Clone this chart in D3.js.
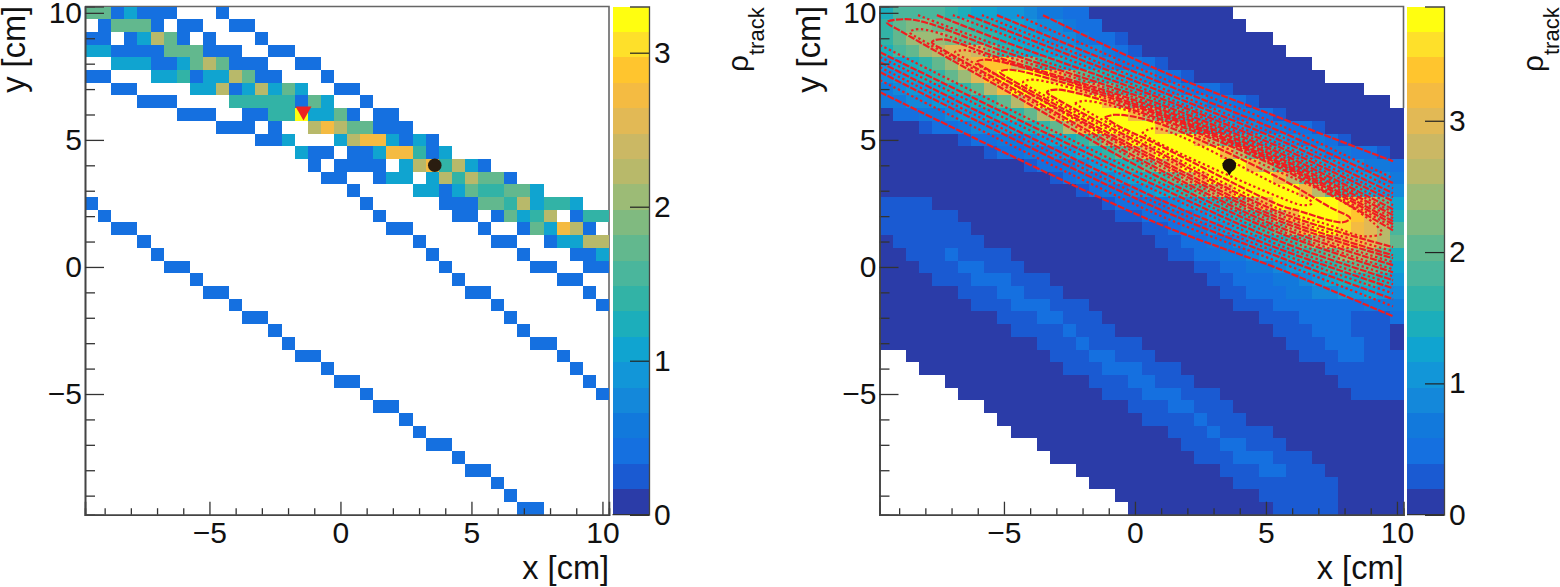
<!DOCTYPE html>
<html>
<head>
<meta charset="utf-8">
<script src="https://cdn.jsdelivr.net/npm/d3@7"></script>
<style>
  html, body { margin: 0; padding: 0; background: #fff; }
  text { font-family: "Liberation Sans", Arial, sans-serif; fill: #111; }
</style>
</head>
<body>
<svg id="chart" width="1560" height="587"></svg>
<script>
// histogram range, 40 x 40 bins of 0.5 cm
const axisRange = [-9.75, 10.25];
const binWidth = 0.5;
const majorTicks = [-5, 0, 5, 10];
const minorTicks = [-9, -8, -7, -6, -4, -3, -2, -1, 1, 2, 3, 4, 6, 7, 8, 9];
const barTicks = [0, 1, 2, 3];

const leftMax = 3.3;
const rightMax = 3.87;

// colour levels of the palette bar, bottom to top
const palette = ["#2b3ca8", "#1a5ad2", "#1570e0", "#1279dc", "#1488da", "#1296d8", "#10a4d0", "#1caebb",
                 "#32b3a6", "#4ab69c", "#62b88e", "#80ba80", "#9cbb76", "#b8b96a", "#cbb864", "#e2b955",
                 "#f4bb42", "#ffc52e", "#fee02a", "#fffe10"];

// left panel: bin contents, one string per row from the top, '.' is an empty bin
const leftBinValues = { A: 0.41, B: 1.0, C: 1.32, D: 1.65, E: 2.25, F: 2.75, G: 3.25 };
const leftRows = [
  "DDABAAA...A",
  ".ADDDA.AA..AA",
  "AA.ABEDA.A...A",
  "BBAAAADDDAAA..AA",
  "..BBBAABDEDAAA..AA",
  "AA...BBCABBEDAA...A",
  "..AA....BBEABEBDB..AA",
  "....AAA....CCCCCADB..A",
  ".{7}AAA..AACCGBBDA.AA",
  ".{10}AAA.A..EFEDDAAA",
  ".{13}AAB...BEFFBABA",
  ".{16}BAA.AABFFCAB",
  ".{17}A.AAAA.BEFCEBA",
  ".{18}AA..ABB.BECEDDA",
  ".{20}A....BBABDCCDDB",
  "A.{20}A.{5}AAADDCEBCCB",
  ".A.{20}A.{5}AA.ADBCE.ACC",
  "..AA.{19}AA.{5}A..ADBFEA",
  "....A.{20}A.{5}AA..ABBEE",
  ".{5}A.{20}A.{6}A...AAB",
  ".{6}AA.{19}A.{6}AA..AA",
  ".{8}A.{19}A.{7}AA",
  ".{9}AA.{18}AA.{7}A",
  ".{11}A.{19}A.{7}A",
  ".{12}AA.{18}A",
  ".{14}A.{18}A",
  ".{15}A.{18}AA",
  ".{16}AA.{18}A",
  ".{18}A.{18}A",
  ".{19}AA.{17}A",
  ".{21}A.{17}A",
  ".{22}AA",
  ".{24}A",
  ".{25}A",
  ".{26}AA",
  ".{28}A",
  ".{29}AA",
  ".{31}A",
  ".{32}A",
  ".{33}AA"
];

// right panel: bin contents in palette steps (base 20), '.' is an empty bin
const rightRows = [
  "7999987665543322" + "0{11}",
  "8abbaa98766544322" + "0{11}",
  "8acccba987665443221" + "0{11}",
  "79acdffeb87665544321" + "0{11}",
  "5678acfghheb8766543321" + "0{11}",
  "45678acfhjjjjgda87654321" + "0{10}",
  "3455678adg" + "j{5}" + "gda8" + "76543221" + "0{10}",
  "334455678adg" + "j{5}" + "gda8" + "76543321" + "0{10}",
  "02233455678adg" + "j{5}" + "gda8" + "76543321" + "0{9}",
  "000" + "1223445678adg" + "j{5}" + "gda8" + "765433221" + "0{6}",
  "0{6}" + "1223345678adg" + "j{5}" + "gda8" + "76543321" + "0{4}",
  "0{8}" + "1223345678adg" + "j{5}" + "gda8" + "765433221" + "0",
  "0{11}" + "122345678adg" + "j{5}" + "gda8" + "76544332",
  "0{13}" + "123345678adg" + "j{5}" + "gda8" + "765543",
  "0{15}" + "123345678adg" + "j{5}" + "gda8" + "7654",
  "1111" + "0{13}" + "1223345678adg" + "j{5}" + "igda6",
  "111111" + "0{12}" + "11223345678adg" + "jjj" + "ihfc7",
  "1{7}" + "0{13}" + "1123345678adg" + "jj" + "igfd9",
  "0" + "1{7}" + "0{13}" + "11223345678" + "adfggfda",
  "00" + "11121111" + "0{12}" + "112233456789" + "accca7",
  "000" + "11122111" + "0{13}" + "1122334567" + "89aa96",
  "0000" + "111222111" + "0{12}" + "112223345" + "677875",
  "0{6}" + "11122111" + "0{12}" + "11222334" + "455654",
  "0{7}" + "111222111" + "0{11}" + "1112222222333",
  "0{9}" + "11122111" + "0{12}" + "11122221112",
  "0{10}" + "11112111" + "0{12}" + "1112221110",
  "0{12}" + "11121111" + "0{11}" + "111222110",
  "..0{11}" + "11122111" + "0{11}" + "11122111",
  "...0{11}" + "111222111" + "0{11}" + "111111",
  ".{5}0{11}" + "11122111" + "0{11}" + "11111",
  ".{6}0{11}" + "111222111" + "0{10}" + "1111",
  ".{8}0{11}" + "11122111" + "0{13}",
  ".{9}0{11}" + "11112111" + "0{12}",
  ".{10}0{12}" + "11121111" + "0{10}",
  ".{12}0{11}" + "11122111" + "0{9}",
  ".{13}0{11}" + "111222111" + "0{7}",
  ".{15}0{11}" + "11122111" + "0{6}",
  ".{16}0{11}" + "1{8}" + "0{5}",
  ".{18}0{11}" + "1{6}" + "0{5}",
  ".{19}0{11}" + "1{5}" + "0{5}"
];

// contour lines of the right panel, points in cm
const contourLines = [
  [[-3.51, 9.91], [0.76, 7.82], [5.53, 5.87], [9.85, 4.16]],
  [[-9.73, 6.88], [0.76, 1.76], [5.53, -0.09], [9.85, -1.94]],
  [[-4.5, 9.91], [0.76, 7.55], [5.53, 5.58], [9.85, 3.49]],
  [[-9.73, 7.35], [0.76, 2.11], [5.53, 0.18], [9.85, -1.55]],
  [[-5.27, 9.91], [0.76, 7.35], [5.53, 5.34], [9.85, 3.3]],
  [[-9.73, 7.67], [0.76, 2.35], [5.53, 0.38], [9.85, -1.27]],
  [[-5.84, 9.91], [0.76, 7.15], [5.53, 5.15], [9.85, 3.1]],
  [[-9.73, 7.86], [0.76, 2.55], [5.53, 0.54], [9.85, -1.04]],
  [[-6.37, 9.91], [0.76, 7.0], [5.53, 4.99], [9.85, 2.9]],
  [[-9.73, 8.06], [0.76, 2.74], [5.53, 0.7], [9.85, -0.84]],
  [[-6.95, 9.91], [0.76, 6.84], [5.53, 4.83], [9.85, 2.74]],
  [[-9.73, 8.26], [0.76, 3.02], [5.53, 0.85], [9.85, -0.68]],
  [[-7.56, 9.91], [-5.15, 8.93], [0.76, 6.72], [5.53, 4.71], [9.85, 2.59]],
  [[-9.73, 8.45], [0.76, 3.22], [5.53, 1.01], [9.85, -0.52]],
  [[-8.28, 9.91], [-5.15, 8.69], [0.76, 6.6], [5.53, 4.59], [9.85, 2.43]],
  [[-9.73, 8.73], [0.76, 3.41], [5.53, 1.17], [9.85, -0.37]],
  [[9.85, 2.27], [5.53, 4.48], [0.76, 6.48], [-5.15, 8.53], [-8.02, 9.63], [-8.78, 9.75], [-9.47, 9.63], [-9.0, 9.32], [-5.15, 7.07], [0.76, 3.61], [5.53, 1.33], [9.85, -0.21]],
  [[9.85, 2.15], [5.53, 4.38], [0.76, 6.38], [-5.15, 8.37], [-8.21, 9.36], [-8.59, 9.24], [-8.13, 8.93], [-5.15, 7.21], [0.76, 3.81], [5.53, 1.44], [9.85, -0.09]],
  [[9.85, 2.04], [5.53, 4.28], [0.76, 6.29], [-5.15, 8.22], [-7.37, 8.96], [-7.75, 8.85], [-7.29, 8.53], [-5.15, 7.31], [0.76, 3.93], [5.53, 1.56], [9.85, 0.07]],
  [[9.85, 1.92], [5.53, 4.2], [0.76, 6.21], [-5.15, 8.14], [-6.49, 8.53], [-6.87, 8.45], [-6.41, 8.17], [-5.15, 7.47], [0.76, 4.08], [5.53, 1.68], [9.85, 0.19]],
  [[9.85, 1.8], [5.53, 4.12], [0.76, 6.13], [-5.65, 8.16], [-6.03, 8.06], [-5.57, 7.74], [0.76, 4.2], [5.53, 1.8], [9.85, 0.34]],
  [[9.85, 1.68], [5.53, 4.04], [0.76, 6.05], [-4.77, 7.76], [-5.15, 7.67], [-4.69, 7.35], [0.76, 4.32], [5.53, 1.92], [9.85, 0.46]],
  [[9.85, 1.56], [5.53, 3.96], [0.76, 5.97], [-3.89, 7.37], [-4.27, 7.27], [-3.82, 6.96], [0.76, 4.48], [5.53, 2.04], [9.85, 0.62]],
  [[9.85, 1.44], [5.53, 3.89], [0.76, 5.89], [-2.98, 6.98], [-3.36, 6.88], [-2.9, 6.56], [0.76, 4.59], [5.53, 2.15], [9.85, 0.78]],
  [[-2.29, 6.44], [-1.91, 6.54], [0.76, 5.81], [5.53, 3.73], [7.82, 2.63], [9.16, 1.68], [9.43, 1.33], [8.7, 1.21], [7.44, 1.64], [5.53, 2.27], [0.76, 4.71], [-1.83, 6.13], [-2.29, 6.44]],
  [[-1.15, 5.89], [-0.76, 5.99], [0.76, 5.7], [5.53, 3.49], [7.44, 2.35], [8.21, 1.92], [7.94, 1.76], [6.18, 2.23], [5.53, 2.43], [0.76, 4.87], [-0.69, 5.58], [-1.15, 5.89]],
  [[0.27, 5.26], [0.76, 5.46], [5.53, 3.18], [6.68, 2.63], [6.76, 2.5], [6.41, 2.43], [5.53, 2.74], [0.76, 4.95], [0.27, 5.26]]
];
// which of the lines above are drawn dotted
const dottedLines = [2, 3, 6, 7, 10, 11, 14, 15, 17, 19, 22, 24, 26];

const vertexPoint = [3.6, 4.0];
const seedPoint = [-1.41, 6.13];

// "1{3}" -> "111", short rows are filled with empty bins
function expandRow(row) {
  return row.replace(/(.)\{(\d+)\}/g, (m, c, n) => c.repeat(+n)).padEnd(40, ".");
}
const leftValue = ch => leftBinValues[ch];
const rightValue = ch => (parseInt(ch, 20) + 0.5) * rightMax / 20;

const svg = d3.select("#chart");
const plotTop = 6.5, plotBottom = 514.7;

function drawPanel(g, left, rows, toValue, zMax, frameEnd) {
  const right = left + 524;
  const x = d3.scaleLinear().domain(axisRange).range([left, right]);
  const y = d3.scaleLinear().domain(axisRange).range([plotBottom, plotTop]);
  const color = d3.scaleQuantize().domain([0, zMax]).range(palette);

  // 1] frame under the bins, top and right side only
  g.append("path")
    .attr("d", `M${left},${plotTop}H${right}V${frameEnd}`)
    .attr("fill", "none").attr("stroke", "#666").attr("stroke-width", 1.6);

  // 2] bins
  const cells = [];
  rows.forEach((row, r) => {
    expandRow(row).split("").slice(0, 40).forEach((ch, c) => {
      if (ch !== ".") cells.push({ c, r, value: toValue(ch) });
    });
  });
  g.append("g").attr("shape-rendering", "crispEdges")
    .selectAll("rect").data(cells).join("rect")
    .attr("x", d => x(axisRange[0] + d.c * binWidth))
    .attr("y", d => y(axisRange[1] - d.r * binWidth))
    .attr("width", x(binWidth) - x(0))
    .attr("height", y(0) - y(binWidth))
    .attr("fill", d => color(d.value));

  return { x, y, right };
}

function drawAxes(g, left, x, y) {
  // minor ticks first, then the labelled ones
  const axes = g.append("g").attr("class", "axes");
  axes.append("g").attr("transform", `translate(0,${plotBottom})`)
    .call(d3.axisBottom(x).tickValues(minorTicks).tickSize(-6.5).tickFormat(""));
  axes.append("g").attr("transform", `translate(0,${plotBottom})`)
    .call(d3.axisBottom(x).tickValues(majorTicks).tickSize(-13).tickPadding(7));
  axes.append("g").attr("transform", `translate(${left},0)`)
    .call(d3.axisLeft(y).tickValues(minorTicks).tickSize(-10).tickFormat(""));
  axes.append("g").attr("transform", `translate(${left},0)`)
    .call(d3.axisLeft(y).tickValues(majorTicks).tickSize(-19).tickPadding(3));
  axes.selectAll("path.domain").attr("stroke", "#444").attr("stroke-width", 1.6);
  axes.selectAll("line").attr("stroke", "#333").attr("stroke-width", 1.3);
  axes.selectAll("text").style("font-size", "30px").attr("fill", "#111");
}

function drawColorBar(g, barLeft, barRight, zMax) {
  const z = d3.scaleLinear().domain([0, zMax]).range([plotBottom, plotTop]);
  const steps = d3.range(palette.length);
  g.append("g").attr("shape-rendering", "crispEdges")
    .selectAll("rect").data(steps).join("rect")
    .attr("x", barLeft)
    .attr("y", d => z((d + 1) * zMax / 20))
    .attr("width", barRight - barLeft)
    .attr("height", z(0) - z(zMax / 20))
    .attr("fill", d => palette[d]);

  const bar = g.append("g").attr("transform", `translate(${barRight},0)`)
    .call(d3.axisRight(z).tickValues(barTicks).tickSize(-19).tickPadding(5).tickFormat(d3.format("d")));
  bar.selectAll("path.domain").attr("stroke", "#444").attr("stroke-width", 1.3);
  bar.selectAll("line").attr("stroke", "#222").attr("stroke-width", 1.2);
  bar.selectAll("text").style("font-size", "30px").attr("fill", "#111");
  g.append("line")
    .attr("x1", barLeft).attr("x2", barRight)
    .attr("y1", plotBottom).attr("y2", plotBottom)
    .attr("stroke", "#333").attr("stroke-width", 1.3);
}

function drawTitles(g, right, offset) {
  g.append("text").attr("x", right).attr("y", 579)
    .attr("text-anchor", "end").style("font-size", "32.5px").text("x [cm]");
  g.append("text").attr("transform", `translate(${25 + offset},6) rotate(-90)`)
    .attr("text-anchor", "end").style("font-size", "32.5px").text("y [cm]");
  g.append("text").attr("transform", `translate(${748 + offset},72) rotate(-90)`)
    .style("font-size", "30px").text("ρ");
  g.append("text").attr("transform", `translate(${764 + offset},55) rotate(-90)`)
    .style("font-size", "22px").text("track");
}

// left panel
const gLeft = svg.append("g");
const pLeft = drawPanel(gLeft, 85, leftRows, leftValue, leftMax, plotBottom);
drawAxes(gLeft, 85, pLeft.x, pLeft.y);
drawColorBar(gLeft, 612.5, 649, leftMax);
drawTitles(gLeft, pLeft.right, 0);

gLeft.append("path")
  .attr("d", d3.symbol(d3.symbolTriangle, 110)())
  .attr("transform", `translate(${pLeft.x(seedPoint[0])},${pLeft.y(seedPoint[1])}) rotate(180)`)
  .attr("fill", "#ee2222");
gLeft.append("circle")
  .attr("cx", pLeft.x(vertexPoint[0])).attr("cy", pLeft.y(vertexPoint[1])).attr("r", 6.8)
  .attr("fill", "#2a1d10");

// right panel, its frame only shows where the top right corner has no bins
const gRight = svg.append("g");
const pRight = drawPanel(gRight, 879.5, rightRows, rightValue, rightMax, 108);

const contour = d3.line()
  .x(d => pRight.x(d[0]))
  .y(d => pRight.y(d[1]))
  .curve(d3.curveCatmullRom.alpha(0.5));

gRight.append("g").selectAll("path").data(contourLines).join("path")
  .attr("d", contour)
  .attr("fill", "none")
  .attr("stroke", "#f01c20")
  .attr("stroke-width", 2.2)
  .attr("stroke-dasharray", (d, i) => dottedLines.includes(i) ? "2.4,2.6" : "7,1.5");

drawAxes(gRight, 879.5, pRight.x, pRight.y);
drawColorBar(gRight, 1407, 1444, rightMax);
drawTitles(gRight, pRight.right, 795);

gRight.append("path")
  .attr("d", d3.symbol(d3.symbolTriangle, 90)())
  .attr("transform", `translate(${pRight.x(vertexPoint[0])},${pRight.y(vertexPoint[1]) + 2}) rotate(180)`)
  .attr("fill", "#1a1008");
gRight.append("circle")
  .attr("cx", pRight.x(vertexPoint[0])).attr("cy", pRight.y(vertexPoint[1])).attr("r", 6.8)
  .attr("fill", "#1a1008");
</script>
</body>
</html>
